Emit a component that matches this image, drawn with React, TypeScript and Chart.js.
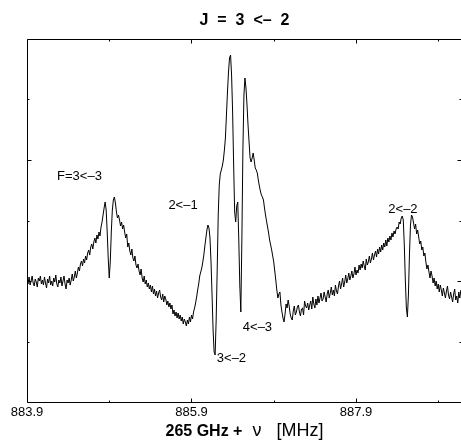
import React, { useEffect, useRef } from "react";
import { Chart, registerables } from "chart.js";

Chart.register(...registerables);

// Frequency of each sample (MHz; the "265 GHz +" offset is in the axis label)
const FREQ_MHZ = [
  883.9, 883.9125, 883.925, 883.9375, 883.95, 883.9625, 883.975, 883.9875,
  884, 884.0125, 884.025, 884.0375, 884.05, 884.0625, 884.075, 884.0875,
  884.1, 884.1125, 884.125, 884.1375, 884.15, 884.1625, 884.175, 884.1875,
  884.2, 884.2125, 884.225, 884.2375, 884.25, 884.2625, 884.275, 884.2875,
  884.3, 884.3125, 884.325, 884.3375, 884.35, 884.3625, 884.375, 884.3875,
  884.4, 884.4125, 884.425, 884.4375, 884.45, 884.4625, 884.475, 884.4875,
  884.5, 884.5125, 884.525, 884.5375, 884.55, 884.5625, 884.575, 884.5875,
  884.6, 884.6125, 884.625, 884.6375, 884.65, 884.6625, 884.675, 884.6875,
  884.7, 884.7125, 884.725, 884.7375, 884.75, 884.7625, 884.775, 884.7875,
  884.8, 884.8125, 884.825, 884.8375, 884.85, 884.8625, 884.875, 884.8875,
  884.9, 884.9125, 884.925, 884.9375, 884.95, 884.9625, 884.975, 884.9875,
  885, 885.0125, 885.025, 885.0375, 885.05, 885.0625, 885.075, 885.0875,
  885.1, 885.1125, 885.125, 885.1375, 885.15, 885.1625, 885.175, 885.1875,
  885.2, 885.2125, 885.225, 885.2375, 885.25, 885.2625, 885.275, 885.2875,
  885.3, 885.3125, 885.325, 885.3375, 885.35, 885.3625, 885.375, 885.3875,
  885.4, 885.4125, 885.425, 885.4375, 885.45, 885.4625, 885.475, 885.4875,
  885.5, 885.5125, 885.525, 885.5375, 885.55, 885.5625, 885.575, 885.5875,
  885.6, 885.6125, 885.625, 885.6375, 885.65, 885.6625, 885.675, 885.6875,
  885.7, 885.7125, 885.725, 885.7375, 885.75, 885.7625, 885.775, 885.7875,
  885.8, 885.8125, 885.825, 885.8375, 885.85, 885.8625, 885.875, 885.8875,
  885.9, 885.9125, 885.925, 885.9375, 885.95, 885.9625, 885.975, 885.9875,
  886, 886.0125, 886.025, 886.0375, 886.05, 886.0625, 886.075, 886.0875,
  886.1, 886.1125, 886.125, 886.1375, 886.15, 886.1625, 886.175, 886.1875,
  886.2, 886.2125, 886.225, 886.2375, 886.25, 886.2625, 886.275, 886.2875,
  886.3, 886.3125, 886.325, 886.3375, 886.35, 886.3625, 886.375, 886.3875,
  886.4, 886.4125, 886.425, 886.4375, 886.45, 886.4625, 886.475, 886.4875,
  886.5, 886.5125, 886.525, 886.5375, 886.55, 886.5625, 886.575, 886.5875,
  886.6, 886.6125, 886.625, 886.6375, 886.65, 886.6625, 886.675, 886.6875,
  886.7, 886.7125, 886.725, 886.7375, 886.75, 886.7625, 886.775, 886.7875,
  886.8, 886.8125, 886.825, 886.8375, 886.85, 886.8625, 886.875, 886.8875,
  886.9, 886.9125, 886.925, 886.9375, 886.95, 886.9625, 886.975, 886.9875,
  887, 887.0125, 887.025, 887.0375, 887.05, 887.0625, 887.075, 887.0875,
  887.1, 887.1125, 887.125, 887.1375, 887.15, 887.1625, 887.175, 887.1875,
  887.2, 887.2125, 887.225, 887.2375, 887.25, 887.2625, 887.275, 887.2875,
  887.3, 887.3125, 887.325, 887.3375, 887.35, 887.3625, 887.375, 887.3875,
  887.4, 887.4125, 887.425, 887.4375, 887.45, 887.4625, 887.475, 887.4875,
  887.5, 887.5125, 887.525, 887.5375, 887.55, 887.5625, 887.575, 887.5875,
  887.6, 887.6125, 887.625, 887.6375, 887.65, 887.6625, 887.675, 887.6875,
  887.7, 887.7125, 887.725, 887.7375, 887.75, 887.7625, 887.775, 887.7875,
  887.8, 887.8125, 887.825, 887.8375, 887.85, 887.8625, 887.875, 887.8875,
  887.9, 887.9125, 887.925, 887.9375, 887.95, 887.9625, 887.975, 887.9875,
  888, 888.0125, 888.025, 888.0375, 888.05, 888.0625, 888.075, 888.0875,
  888.1, 888.1125, 888.125, 888.1375, 888.15, 888.1625, 888.175, 888.1875,
  888.2, 888.2125, 888.225, 888.2375, 888.25, 888.2625, 888.275, 888.2875,
  888.3, 888.3125, 888.325, 888.3375, 888.35, 888.3625, 888.375, 888.3875,
  888.4, 888.4125, 888.425, 888.4375, 888.45, 888.4625, 888.475, 888.4875,
  888.5, 888.5125, 888.525, 888.5375, 888.55, 888.5625, 888.575, 888.5875,
  888.6, 888.6125, 888.625, 888.6375, 888.65, 888.6625, 888.675, 888.6875,
  888.7, 888.7125, 888.725, 888.7375, 888.75, 888.7625, 888.775, 888.7875,
  888.8, 888.8125, 888.825, 888.8375, 888.85, 888.8625, 888.875, 888.8875,
  888.9, 888.9125, 888.925, 888.9375, 888.95, 888.9625, 888.975, 888.9875,
  889, 889.0125, 889.025, 889.0375, 889.05, 889.0625, 889.075, 889.0875,
  889.1, 889.1125, 889.125, 889.1375, 889.15, 889.1625, 889.175,
];

// Signal (arbitrary units), one value per frequency above
const INTENSITY = [
  122, 118, 125, 117, 121, 126, 119, 116, 123, 120,
  115, 124, 121, 126, 118, 122, 117, 125, 119, 114,
  123, 119, 126, 117, 121, 116, 124, 120, 127, 118,
  115, 122, 119, 125, 116, 121, 126, 118, 113, 122,
  119, 124, 117, 122, 128, 121, 125, 131, 124, 129,
  135, 131, 138, 141, 136, 143, 139, 146, 142, 149,
  152, 147, 155, 158, 153, 160, 164, 159, 167, 163,
  170, 166, 175,
  180, 187, 194, 200, 192, 170, 144, 124, 140, 170,
  192, 202, 205, 199, 190, 184,
  187, 182, 176, 180, 173, 177, 170, 164, 168, 155,
  159, 151, 147, 153, 144, 141, 146, 137, 134, 138,
  131, 127, 133, 124, 120, 126, 118, 122, 115, 119,
  113, 117, 110, 116, 108, 113, 106, 111, 104, 109,
  112, 105, 102, 108, 100, 106, 103, 97, 101, 95,
  99, 93, 97, 88, 92, 86, 90, 84, 89, 83,
  87, 81, 85, 78, 83, 80, 76, 82, 78, 85,
  80, 87, 83, 90, 94, 99, 105, 112, 118, 126,
  130, 134, 140, 147, 156, 164, 172, 177, 174, 164,
  140, 107, 72, 50, 47, 82, 132, 187, 217, 228,
  232, 236, 242, 252, 264, 287, 310, 330, 344, 347,
  327, 290, 237, 190, 180, 196, 200, 162, 117, 90,
  162, 252, 307, 324, 314, 297, 277, 260, 244, 240,
  244, 249, 242, 234,
  232,
  229, 222, 216, 211, 207, 205, 202, 194, 187, 181,
  175, 169, 162, 157, 152, 146, 140, 131, 122, 112,
  104, 108, 110, 97, 90, 84, 80, 88, 98, 94,
  102, 96, 88, 84, 82, 91, 96, 87, 90, 95,
  97, 90, 86, 93, 94, 87, 101, 96, 94, 99,
  92, 97, 101, 93, 105, 98, 94, 103, 97, 106,
  99, 104, 109, 101, 103, 110, 105, 100, 108, 112,
  104, 109, 115, 107, 112, 106, 117, 111, 108, 116,
  121, 113, 118, 124, 115, 120, 127, 119, 123, 129,
  122, 126, 131, 124, 128, 135, 127, 132, 129, 137,
  132, 138, 134, 141, 136, 132, 143, 137, 140, 146,
  139, 143, 149, 142, 147, 151, 145, 153, 148, 155,
  150, 157, 152, 159, 155, 162, 156, 164, 160, 166,
  162, 169, 165, 171, 168, 173, 175,
  173, 180, 178, 184, 186, 182, 157, 122, 94, 85,
  107, 147, 177, 187, 185, 179, 173, 178, 168, 172,
  165,
  158, 161, 152, 155, 146, 149, 140, 133, 137, 130,
  124, 131, 126, 119, 124, 116, 121, 113, 118, 110,
  117, 112, 106, 114, 109, 104, 111, 116, 107, 103,
  110, 105, 100, 108, 113, 102, 106, 99, 110, 104,
  112,
];

const X_MIN = 883.9;
const X_MAX = 889.189;
const Y_MIN = 0;
const Y_MAX = 363;

const X_LABEL_TICKS = [883.9, 885.9, 887.9];
const X_MINOR_TICKS = [884.9, 886.9, 888.9];
const Y_TICKS = [60.5, 121, 181.5, 242, 302.5];
const Y_MAJOR_TICKS = [121, 242];

const TITLE = "J  =  3  <–  2";
const X_TITLE_BOLD = "265 GHz +";
const X_TITLE_NU = "ν";
const X_TITLE_UNIT = "[MHz]";

const LINE_LABELS = ["F=3<–3", "2<–1", "3<–2", "4<–3", "2<–2"];
const LINE_LABEL_FREQ = [884.538, 885.797, 886.386, 886.702, 888.471];
const LINE_LABEL_INTENSITY = [226, 197, 44, 75, 193];

const FONT = "'Liberation Sans', Arial, Helvetica, sans-serif";

const framePlugin = {
  id: "frameAndText",
  afterDatasetsDraw(chart: any) {
    const { ctx, chartArea: a, scales } = chart;
    const xs = scales.x;
    const ys = scales.y;
    const L = Math.floor(a.left) + 0.5;
    const R = Math.floor(a.right) - 0.5;
    const T = Math.floor(a.top) + 0.5;
    const B = Math.floor(a.bottom) + 0.5;
    ctx.save();
    ctx.strokeStyle = "#000";
    ctx.lineWidth = 1;
    ctx.beginPath();
    ctx.moveTo(L, T);
    ctx.lineTo(R, T);
    ctx.lineTo(R, B);
    ctx.lineTo(L, B);
    ctx.closePath();
    const xTick = (v: number, len: number) => {
      const px = Math.round(xs.getPixelForValue(v)) + 0.5;
      ctx.moveTo(px, T);
      ctx.lineTo(px, T + len);
      ctx.moveTo(px, B);
      ctx.lineTo(px, B - len);
    };
    X_LABEL_TICKS.forEach((v) => xTick(v, 4));
    X_MINOR_TICKS.forEach((v) => xTick(v, 2));
    Y_TICKS.forEach((v) => {
      const len = Y_MAJOR_TICKS.includes(v) ? 4 : 2;
      const py = Math.round(ys.getPixelForValue(v)) + 0.5;
      ctx.moveTo(L, py);
      ctx.lineTo(L + len, py);
      ctx.moveTo(R, py);
      ctx.lineTo(R - len, py);
    });
    ctx.stroke();

    ctx.fillStyle = "#000";
    ctx.font = `13px ${FONT}`;
    ctx.textAlign = "center";
    ctx.textBaseline = "middle";
    LINE_LABELS.forEach((t, i) => {
      ctx.fillText(
        t,
        xs.getPixelForValue(LINE_LABEL_FREQ[i]),
        ys.getPixelForValue(LINE_LABEL_INTENSITY[i])
      );
    });

    const cx = (a.left + a.right) / 2;
    ctx.textBaseline = "alphabetic";
    ctx.font = `bold 16px ${FONT}`;
    ctx.fillText(TITLE, cx, 25);

    ctx.textAlign = "left";
    ctx.font = `bold 16px ${FONT}`;
    const wBold = ctx.measureText(X_TITLE_BOLD).width;
    ctx.font = `18px ${FONT}`;
    const wNu = ctx.measureText(X_TITLE_NU).width;
    const wUnit = ctx.measureText(X_TITLE_UNIT).width;
    const gap1 = 10;
    const gap2 = 15;
    const total = wBold + gap1 + wNu + gap2 + wUnit;
    let x0 = cx - total / 2;
    const by = 436;
    ctx.font = `bold 16px ${FONT}`;
    ctx.fillText(X_TITLE_BOLD, x0, by);
    x0 += wBold + gap1;
    ctx.font = `18px ${FONT}`;
    ctx.fillText(X_TITLE_NU, x0, by);
    x0 += wNu + gap2;
    ctx.fillText(X_TITLE_UNIT, x0, by);
    ctx.restore();
  },
};

export default function App() {
  const canvasRef = useRef<HTMLCanvasElement | null>(null);

  useEffect(() => {
    document.body.style.margin = "0";
    const canvas = canvasRef.current;
    if (!canvas) return;
    const chart = new Chart(canvas, {
      type: "line",
      data: {
        datasets: [
          {
            data: FREQ_MHZ.map((f, i) => ({ x: f, y: INTENSITY[i] })),
            borderColor: "#000",
            borderWidth: 1,
            pointRadius: 0,
            fill: false,
            tension: 0,
          },
        ],
      },
      options: {
        animation: false,
        responsive: false,
        devicePixelRatio: 1,
        layout: { padding: { top: 39, right: 4, left: 27, bottom: 0 } },
        plugins: {
          legend: { display: false },
          tooltip: { enabled: false },
          title: { display: false },
        },
        scales: {
          x: {
            type: "linear",
            min: X_MIN,
            max: X_MAX,
            grid: { display: false, drawTicks: false },
            border: { display: false },
            afterBuildTicks: (scale: any) => {
              scale.ticks = X_LABEL_TICKS.map((v) => ({ value: v }));
            },
            afterFit: (scale: any) => {
              scale.height = 41;
            },
            ticks: {
              autoSkip: false,
              maxRotation: 0,
              padding: 3,
              color: "#000",
              font: { family: FONT, size: 13 },
              callback: (v: any) => Number(v).toFixed(1),
            },
          },
          y: {
            type: "linear",
            display: false,
            min: Y_MIN,
            max: Y_MAX,
          },
        },
      },
      plugins: [framePlugin],
    });
    return () => chart.destroy();
  }, []);

  return (
    <div style={{ width: 461, height: 443, overflow: "hidden", position: "relative", background: "#fff" }}>
      <canvas ref={canvasRef} width={466} height={443} style={{ display: "block" }} />
    </div>
  );
}
